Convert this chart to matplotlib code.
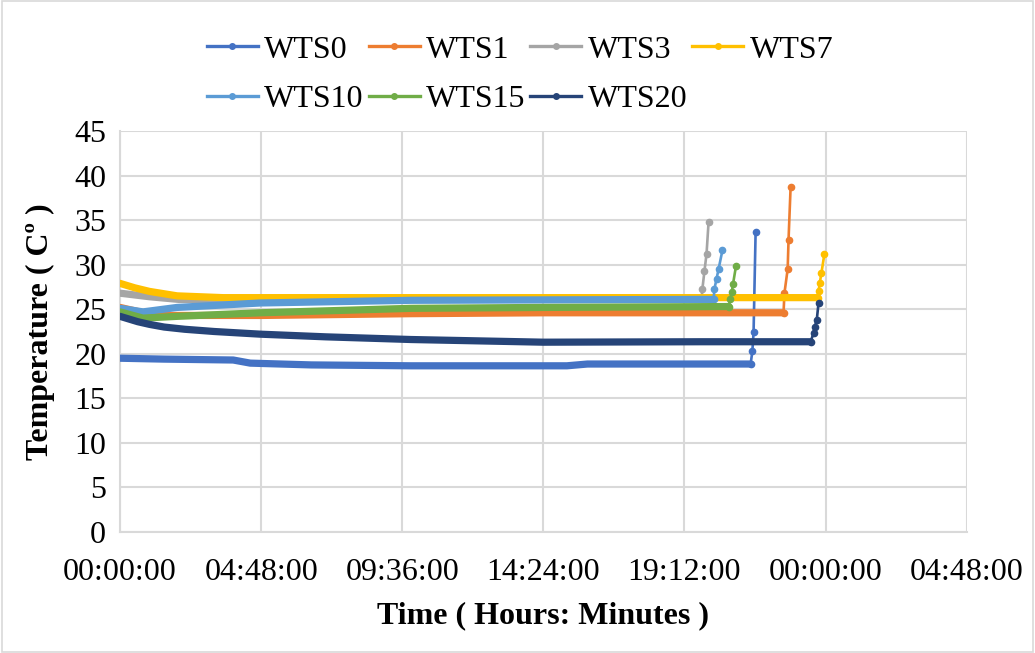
import numpy as np
import matplotlib
matplotlib.use("Agg")
import matplotlib.pyplot as plt
from matplotlib.ticker import FuncFormatter, MultipleLocator
from matplotlib.patches import Rectangle

plt.rcParams['font.family'] = 'Liberation Serif'

# logged readings: elapsed time in hours, temperature in C
wts0_t = [0, 1.5, 3.85, 4.43, 6.5, 9.9, 15.2, 15.9, 21.45, 21.51, 21.55, 21.62]
wts0_v = [19.5, 19.4, 19.3, 18.95, 18.75, 18.65, 18.65, 18.85, 18.85, 20.3, 22.4, 33.7]

wts1_t = [0, 0.8, 1.5, 4.8, 9.9, 14.4, 22.57, 22.60, 22.71, 22.74, 22.81]
wts1_v = [25.2, 24.6, 24.3, 24.3, 24.5, 24.6, 24.6, 26.8, 29.5, 32.8, 38.7]

wts3_t = [0, 0.5, 1.0, 2.0, 5.0, 19.78, 19.81, 19.88, 19.95, 20.02]
wts3_v = [26.8, 26.6, 26.4, 26.1, 26.1, 26.1, 27.3, 29.3, 31.2, 34.8]

wts7_t = [0, 0.5, 1.0, 1.94, 3.5, 9.9, 23.73, 23.76, 23.80, 23.86, 23.96]
wts7_v = [27.9, 27.4, 27.0, 26.5, 26.3, 26.3, 26.3, 27.0, 27.9, 29.1, 31.2]

wts10_t = [0, 0.78, 1.94, 4.77, 9.9, 19.74, 20.19, 20.22, 20.29, 20.36, 20.49]
wts10_v = [25.1, 24.7, 25.2, 25.7, 26.0, 26.1, 26.1, 27.3, 28.4, 29.5, 31.6]

wts15_t = [0, 0.78, 1.94, 4.77, 9.9, 14.4, 20.71, 20.75, 20.81, 20.85, 20.95]
wts15_v = [24.7, 24.0, 24.2, 24.6, 25.1, 25.2, 25.3, 26.1, 26.9, 27.8, 29.8]

wts20_t = [0, 0.3, 0.6, 1.0, 1.5, 2.2, 3.2, 4.77, 7.0, 9.9, 14.4, 19.74, 23.49, 23.59, 23.63, 23.70, 23.76]
wts20_v = [24.2, 23.9, 23.6, 23.3, 23.0, 22.75, 22.5, 22.2, 21.9, 21.6, 21.3, 21.35, 21.35, 22.3, 23.0, 23.8, 25.7]

names = ['WTS0', 'WTS1', 'WTS3', 'WTS7', 'WTS10', 'WTS15', 'WTS20']
times = [wts0_t, wts1_t, wts3_t, wts7_t, wts10_t, wts15_t, wts20_t]
temps = [wts0_v, wts1_v, wts3_v, wts7_v, wts10_v, wts15_v, wts20_v]
colors = ['#4472C4', '#ED7D31', '#A5A5A5', '#FFC000', '#5B9BD5', '#70AD47', '#264478']

fig = plt.figure(figsize=(10.35, 6.53), dpi=100)
ax = fig.add_axes([0.116, 0.1853, 0.818, 0.6141])

handles = []
for name, t, v, c in zip(names, times, temps, colors):
    x = np.array(t) / 24.0
    y = np.array(v)
    # the final burst of closely spaced readings is drawn with markers
    steps = np.diff(x) * 24
    k = len(x) - 1
    while k > 0 and steps[k - 1] < 0.2:
        k -= 1
    ax.plot(x[:k + 1], y[:k + 1], color=c, lw=5.2, solid_capstyle='round',
            solid_joinstyle='round', zorder=3)
    ax.plot(x[k:], y[k:], color=c, lw=1.9, marker='o', ms=4.5, zorder=3)
    h, = ax.plot([], [], color=c, lw=2.4, marker='o', ms=4, label=name)
    handles.append(h)

ax.set_xlim(0, 1.2)
ax.set_ylim(0, 45)
ax.xaxis.set_major_locator(MultipleLocator(0.2))
ax.yaxis.set_major_locator(MultipleLocator(5))


def hms(x, pos):
    m = int(round(x * 1440)) % 1440
    return '%02d:%02d:00' % (m // 60, m % 60)


ax.xaxis.set_major_formatter(FuncFormatter(hms))
ax.grid(True, color='#D9D9D9', lw=1.5, zorder=0)
for s in ax.spines.values():
    s.set_visible(False)
for side in ['left', 'bottom']:
    ax.spines[side].set_visible(True)
    ax.spines[side].set_color('#D9D9D9')
    ax.spines[side].set_linewidth(1.5)
ax.tick_params(length=0, labelsize=23)
ax.tick_params(axis='x', pad=19)
ax.tick_params(axis='y', pad=10)

ax.set_xlabel('Time ( Hours: Minutes )', fontsize=23, fontweight='bold', labelpad=10)
ax.set_ylabel('Temperature ( Cº )', fontsize=23, fontweight='bold', labelpad=14)

# legend filled column-wise, so interleave to read row by row
order = [0, 4, 1, 5, 2, 6, 3]
leg = fig.legend([handles[i] for i in order], [names[i] for i in order],
                 ncol=4, loc='upper left', bbox_to_anchor=(0.172, 0.99),
                 frameon=False, fontsize=23,
                 handlelength=1.6, handletextpad=0.2, columnspacing=0.15,
                 labelspacing=0.62)

fig.patches.append(Rectangle((0.002, 0.002), 0.996, 0.996, transform=fig.transFigure,
                             fill=False, edgecolor='#D9D9D9', lw=1.2))

fig.savefig('out.png', dpi=100)
